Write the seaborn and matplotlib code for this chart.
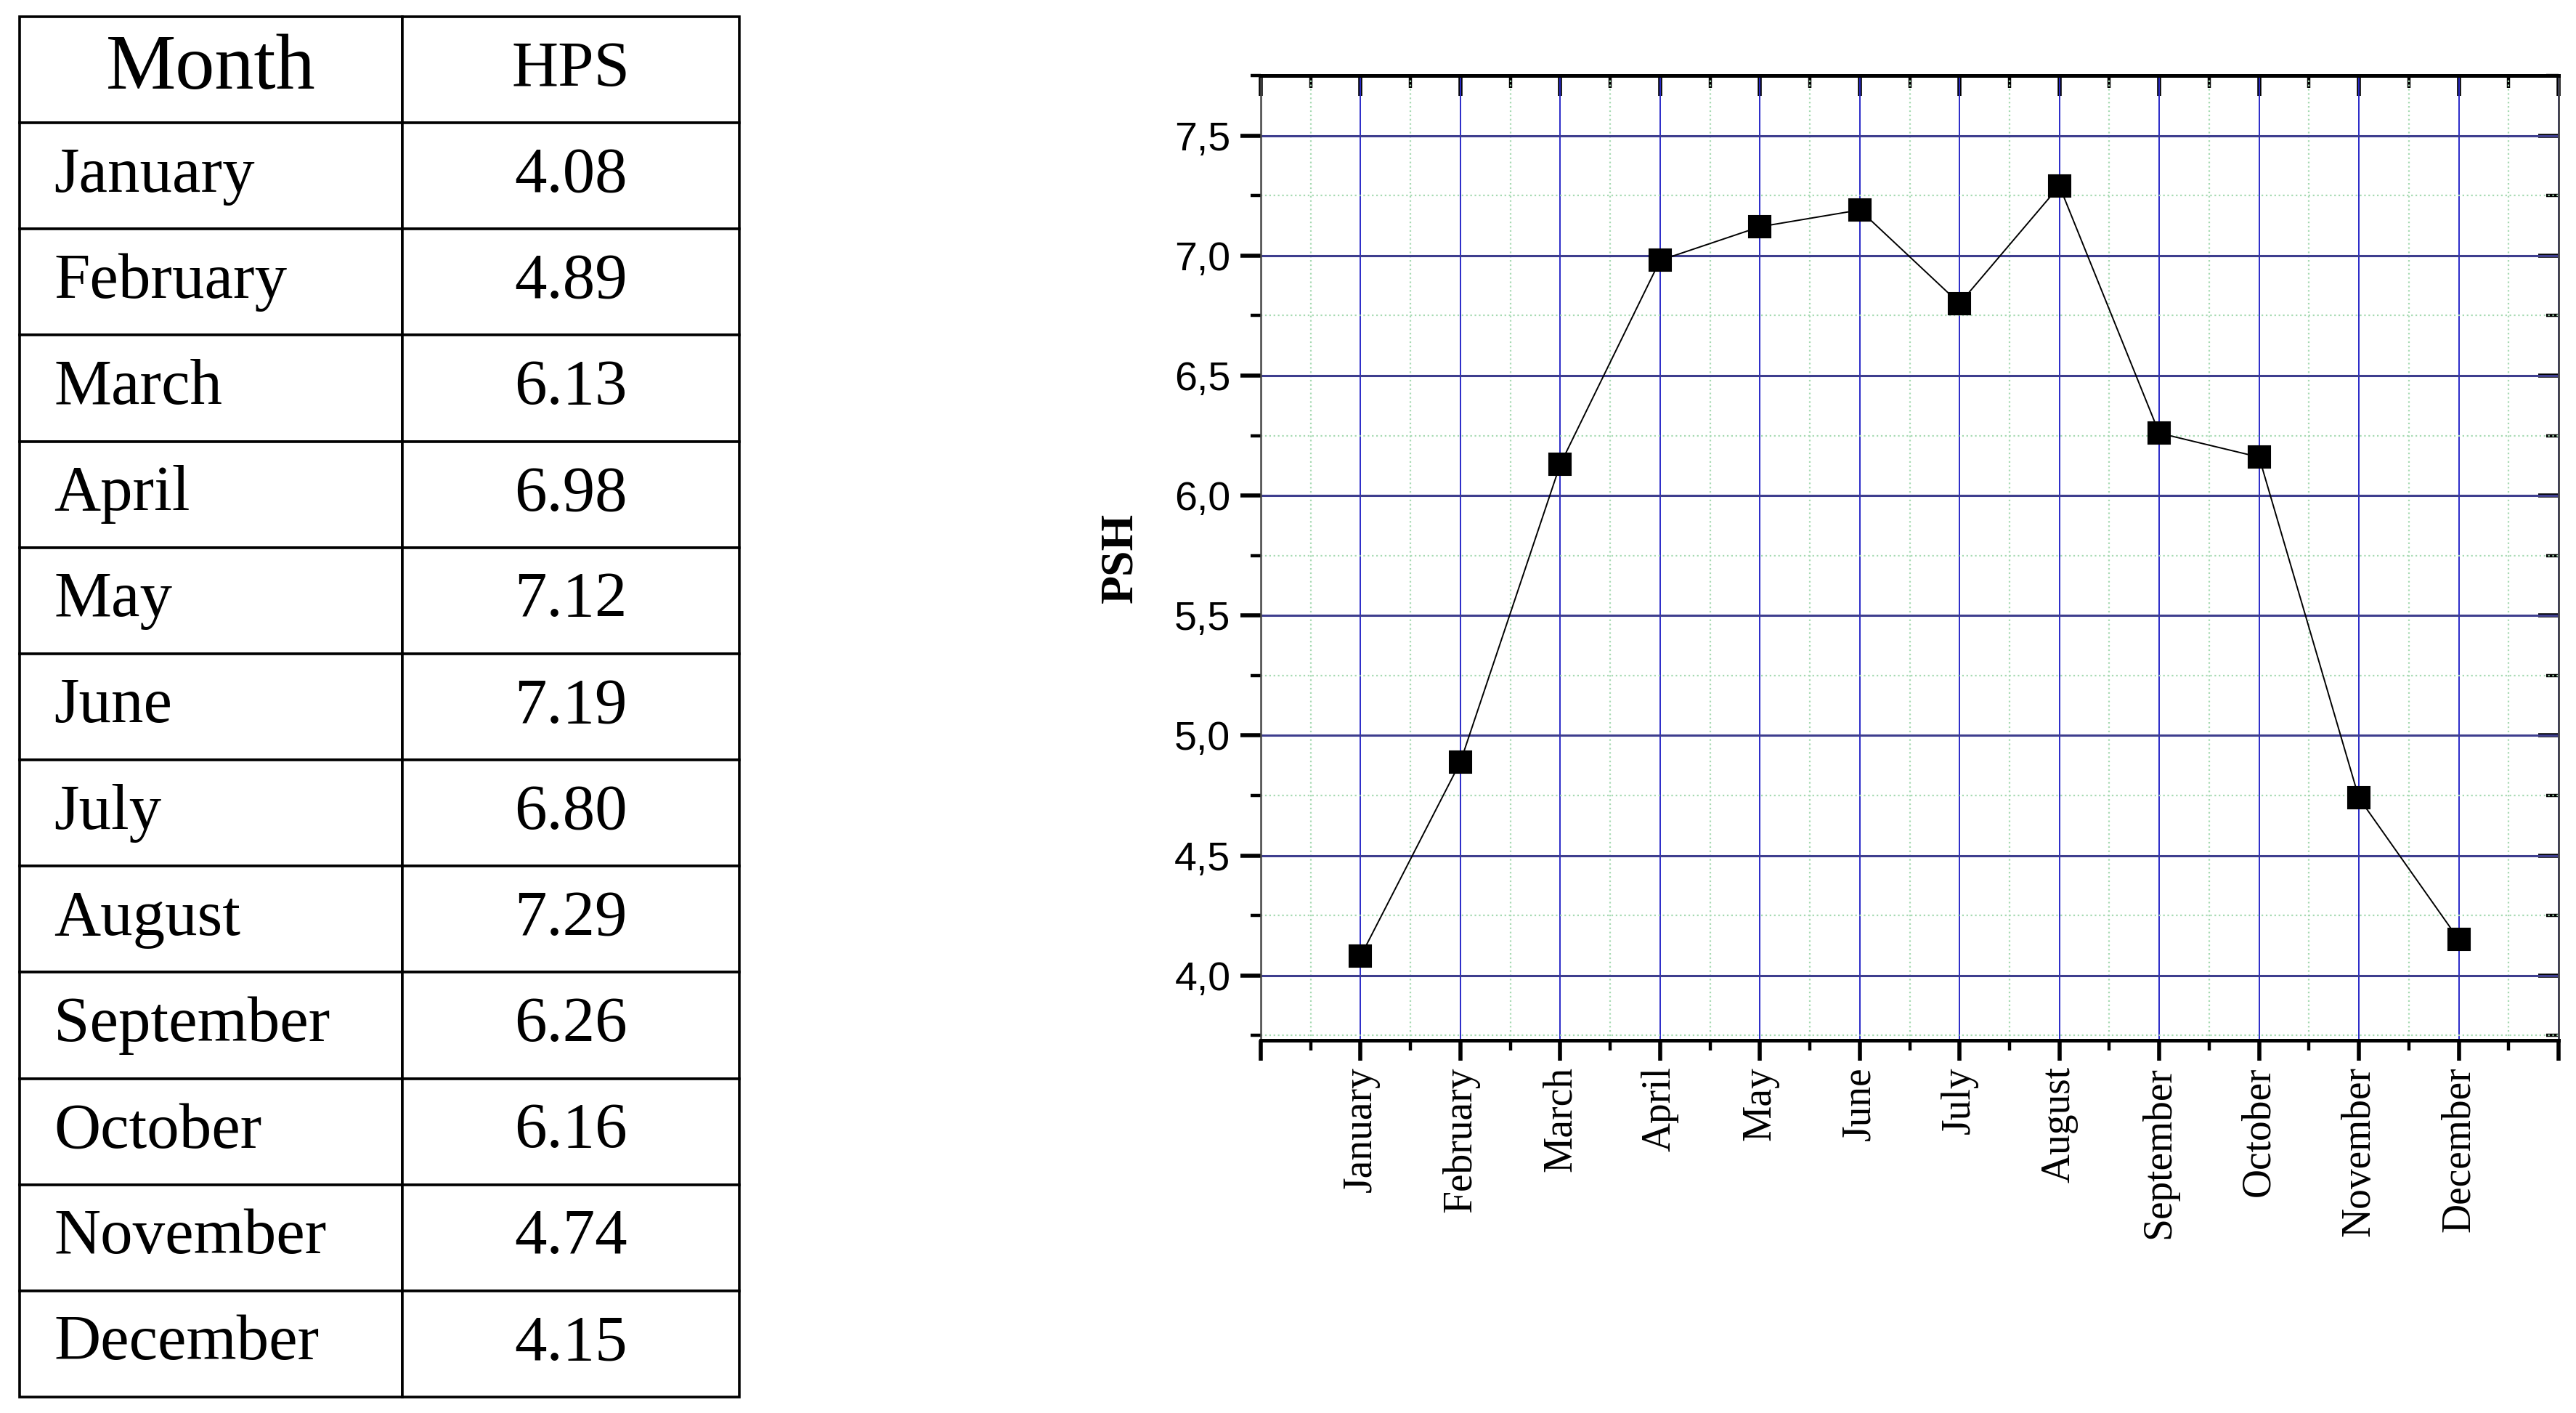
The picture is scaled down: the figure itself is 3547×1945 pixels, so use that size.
import numpy as np
import matplotlib
matplotlib.use("Agg")
import matplotlib.pyplot as plt
import seaborn as sns
from matplotlib.ticker import FuncFormatter, MultipleLocator

# ---------- dados ----------
months = ["January", "February", "March", "April", "May", "June",
          "July", "August", "September", "October", "November", "December"]
hps = [4.08, 4.89, 6.13, 6.98, 7.12, 7.19, 6.80, 7.29, 6.26, 6.16, 4.74, 4.15]
col_labels = ["Month", "HPS"]
y_label = "PSH"

pos = np.arange(1, len(months) + 1)

sns.set_style("ticks")
plt.rcParams['font.family'] = ['Liberation Sans', 'DejaVu Sans']
plt.rcParams.update({"text.color": "black", "xtick.color": "black",
                     "ytick.color": "black", "axes.labelcolor": "black"})

W, H, DPI = 3548, 1945, 200
fig = plt.figure(figsize=(W / DPI, H / DPI), dpi=DPI)

# ---------- tabela ----------
ax_t = fig.add_axes([27 / W, 1 - 1923 / H, (1018 - 27) / W, (1923 - 23) / H])
ax_t.axis("off")
rows = [[m, f"{v:.2f}"] for m, v in zip(months, hps)]
tab = ax_t.table(cellText=rows, colLabels=col_labels, bbox=[0, 0, 1, 1],
                 colWidths=[527 / 991, 464 / 991], cellLoc="center")
tab.auto_set_font_size(False)
for (r, c), cell in tab.get_celld().items():
    cell.set_linewidth(1.3)
    cell.set_edgecolor("black")
    t = cell.get_text()
    t.set_fontfamily("Liberation Serif")
    t.set_fontsize(32)
    t.set_color("black")
    if r == 0 and c == 0:
        t.set_fontsize(39)
    if r > 0 and c == 0:
        t.set_horizontalalignment("left")
        cell.PAD = 0.09

# ---------- gráfico ----------
ax = fig.add_axes([1736 / W, 1 - 1432 / H, (3523 - 1736) / W, (1432 - 104) / H])
sns.lineplot(x=pos, y=hps, ax=ax, color="black", lw=0.7, marker="s",
             markersize=10.5, markeredgecolor="black", markerfacecolor="black")

ax.set_xlim(0, len(months) + 1)
ax.set_ylim(3.73, 7.75)
ax.set_xticks(np.arange(0, len(months) + 2))
ax.set_xticklabels([""] + months + [""], rotation=90,
                   fontfamily="Liberation Serif", fontsize=20)
ax.xaxis.set_minor_locator(MultipleLocator(0.5))
ax.yaxis.set_major_locator(MultipleLocator(0.5))
ax.yaxis.set_minor_locator(MultipleLocator(0.25))
ax.yaxis.set_major_formatter(FuncFormatter(lambda v, p: f"{v:.1f}".replace(".", ",")))
for lb in ax.get_yticklabels():
    lb.set_fontsize(20)

ax.set_ylabel(y_label, fontfamily="Liberation Serif", fontweight="bold",
              fontsize=23, labelpad=16)
ax.set_xlabel("")

# grade
ax.set_axisbelow(True)
ax.grid(which="minor", color="#a6dab2", lw=0.8, ls=":")
ax.grid(which="major", axis="x", color="#2a2ac8", lw=0.7)
ax.grid(which="major", axis="y", color="#3e3e8e", lw=1.1)

# ticks
ax.tick_params(axis="both", which="both", bottom=True, left=True,
               top=False, right=False, direction="out", color="black")
ax.tick_params(axis="both", which="major", length=10, width=2.0, pad=3)
ax.tick_params(axis="y", which="major", pad=5)
ax.tick_params(axis="both", which="minor", length=5, width=1.6)

for s in ["top", "bottom"]:
    ax.spines[s].set_linewidth(1.8)
    ax.spines[s].set_color("black")
for s in ["left", "right"]:
    ax.spines[s].set_linewidth(0.9)
    ax.spines[s].set_color("#444444")

top = ax.secondary_xaxis("top")
top.set_xticks(np.arange(0, len(months) + 2))
top.set_xticklabels([])
top.xaxis.set_minor_locator(MultipleLocator(0.5))
top.tick_params(which="both", top=True, bottom=False, labeltop=False,
                direction="in", color="black")
top.tick_params(which="major", length=10, width=2.0)
top.tick_params(which="minor", length=6, width=1.6)
top.spines["top"].set_linewidth(1.8)

right = ax.secondary_yaxis("right")
right.yaxis.set_major_locator(MultipleLocator(0.5))
right.yaxis.set_minor_locator(MultipleLocator(0.25))
right.set_yticklabels([])
right.tick_params(which="both", right=True, left=False, labelright=False,
                  direction="in", color="black")
right.tick_params(which="major", length=10, width=2.0)
right.tick_params(which="minor", length=6, width=1.6)
right.spines["right"].set_linewidth(0.9)
right.spines["right"].set_color("#444444")

fig.savefig("out.png", dpi=DPI)
